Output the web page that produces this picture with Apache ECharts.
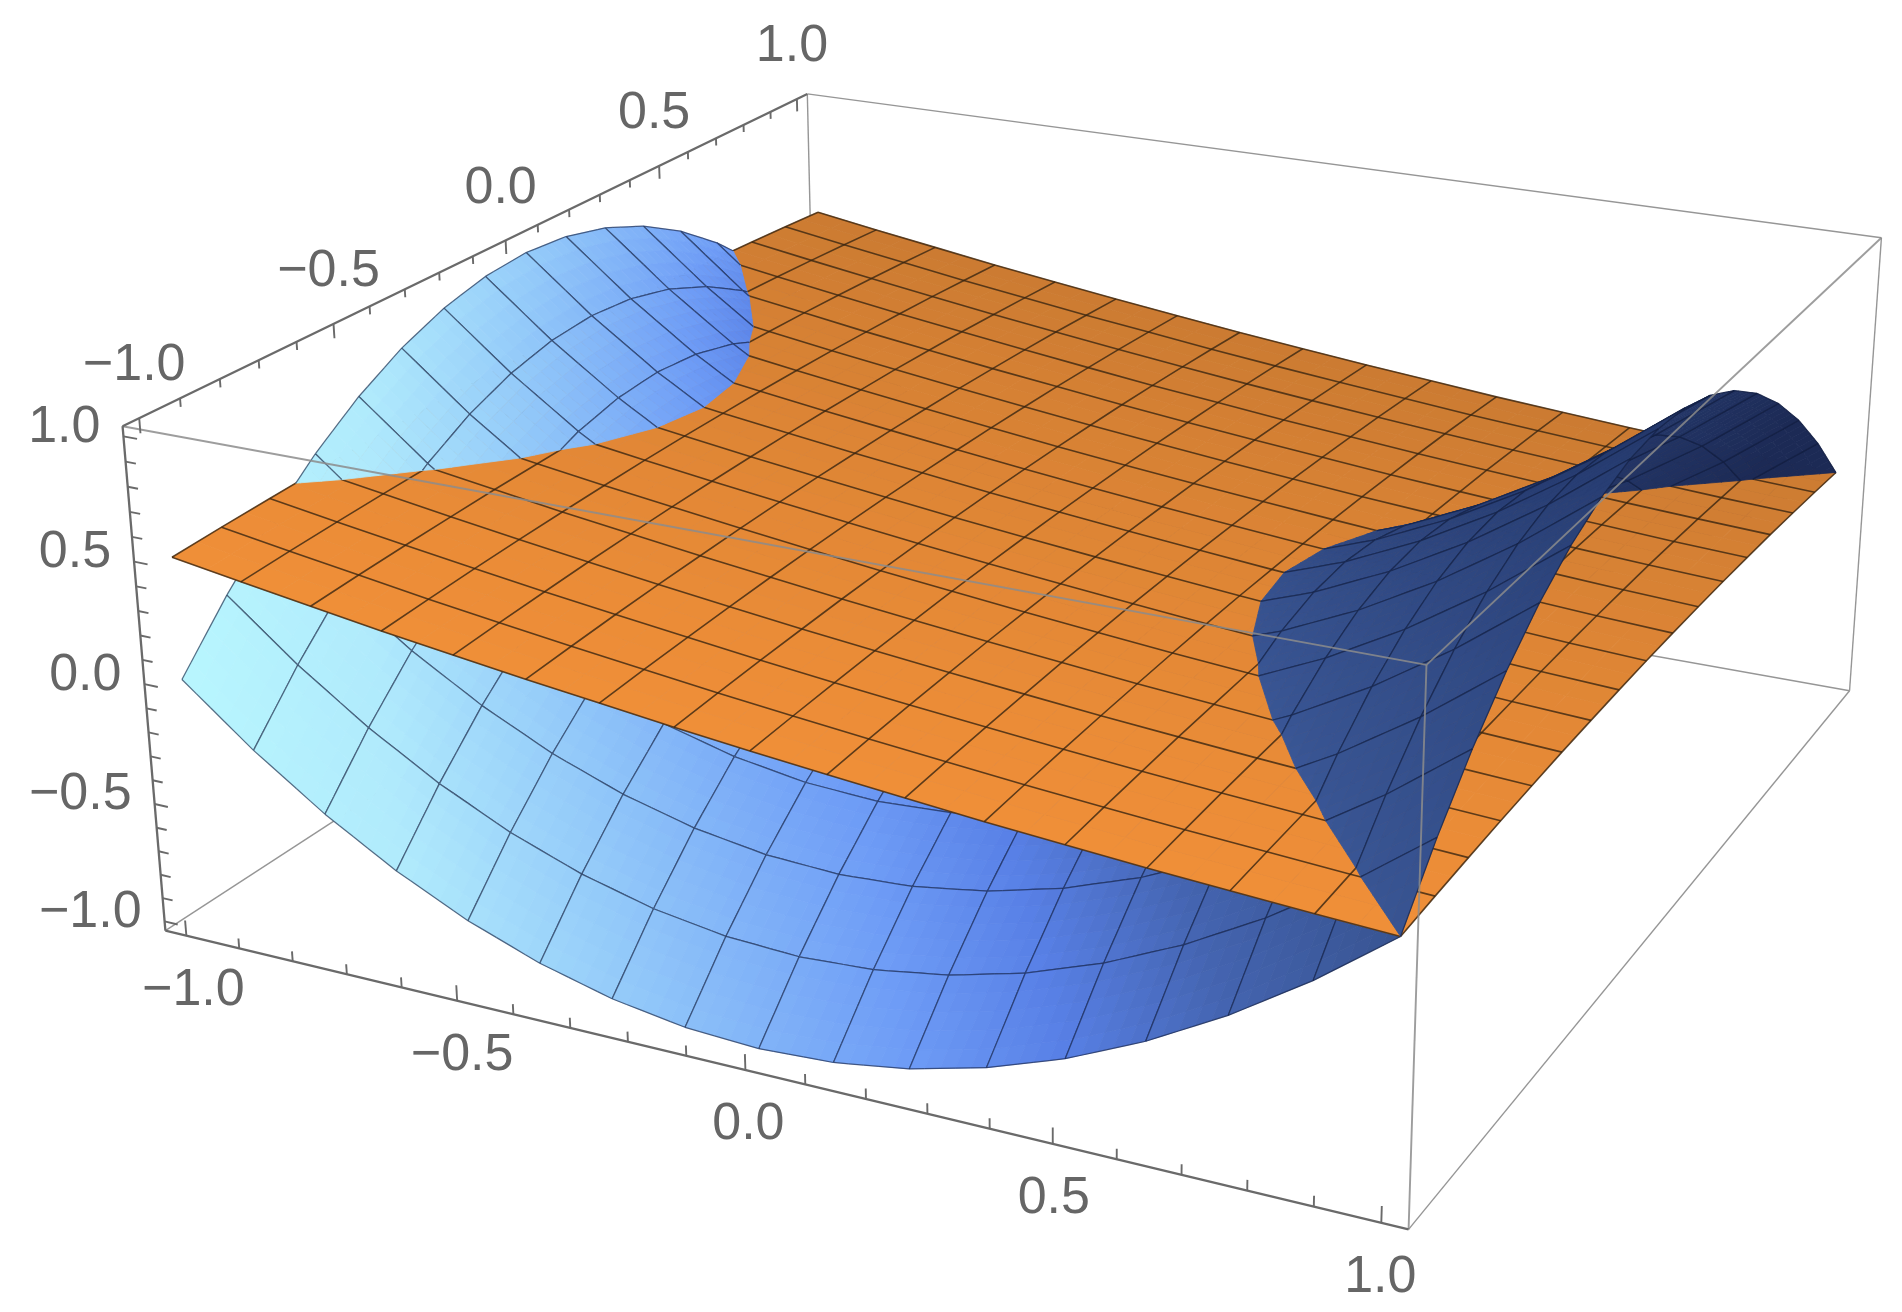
<!DOCTYPE html>
<html><head><meta charset="utf-8">
<style>html,body{margin:0;padding:0;background:#fff}#c{width:1902px;height:1312px}</style>
<script src="https://cdn.jsdelivr.net/npm/echarts@6/dist/echarts.min.js"></script>
</head><body><div id="c"></div>
<script>
// ---------- data ----------
const gridX = [-1,-0.875,-0.75,-0.625,-0.5,-0.375,-0.25,-0.125,0,0.125,0.25,0.375,0.5,0.625,0.75,0.875,1];
const gridY = [-1,-0.875,-0.75,-0.625,-0.5,-0.375,-0.25,-0.125,0,0.125,0.25,0.375,0.5,0.625,0.75,0.875,1];

// blue surface heights, row per y, column per x
const blueA = [0,-.234,-.437,-.609,-.75,-.859,-.937,-.984,-1,-.984,-.937,-.859,-.75,-.609,-.437,-.234,0];
const blueB = [.234,0,-.203,-.375,-.516,-.625,-.703,-.75,-.766,-.75,-.703,-.625,-.516,-.375,-.203,0,.234];
const blueC = [.437,.203,0,-.172,-.313,-.422,-.5,-.547,-.563,-.547,-.5,-.422,-.313,-.172,0,.203,.437];
const blueD = [.609,.375,.172,0,-.141,-.25,-.328,-.375,-.391,-.375,-.328,-.25,-.141,0,.172,.375,.609];
const blueE = [.75,.516,.313,.141,0,-.109,-.187,-.234,-.25,-.234,-.187,-.109,0,.141,.313,.516,.75];
const blueF = [.859,.625,.422,.25,.109,0,-.078,-.125,-.141,-.125,-.078,0,.109,.25,.422,.625,.859];
const blueG = [.937,.703,.5,.328,.187,.078,0,-.047,-.063,-.047,0,.078,.187,.328,.5,.703,.937];
const blueH = [.984,.75,.547,.375,.234,.125,.047,0,-.016,0,.047,.125,.234,.375,.547,.75,.984];
const blueI = [1,.766,.563,.391,.25,.141,.063,.016,0,.016,.063,.141,.25,.391,.563,.766,1];
const blueZ = [blueA,blueB,blueC,blueD,blueE,blueF,blueG,blueH,blueI,blueH,blueG,blueF,blueE,blueD,blueC,blueB,blueA];

// orange surface heights, row per y, column per x
const orangeA = [.5,.455,.412,.369,.33,.292,.257,.222,.19,.16,.132,.104,.08,.057,.037,.017,0];
const orangeB = [.514,.469,.426,.383,.344,.306,.271,.236,.204,.174,.146,.118,.094,.071,.051,.031,.014];
const orangeC = [.526,.481,.438,.396,.356,.319,.283,.248,.216,.186,.158,.131,.106,.084,.063,.043,.026];
const orangeD = [.537,.492,.448,.406,.367,.329,.293,.258,.227,.196,.168,.141,.117,.094,.073,.054,.037];
const orangeE = [.545,.5,.457,.414,.375,.337,.302,.267,.235,.205,.177,.149,.125,.102,.082,.062,.045];
const orangeF = [.552,.507,.463,.421,.382,.344,.308,.273,.242,.211,.183,.156,.132,.109,.088,.069,.052];
const orangeG = [.556,.511,.468,.426,.386,.349,.313,.278,.246,.216,.188,.161,.136,.114,.093,.073,.056];
const orangeH = [.559,.514,.471,.429,.389,.352,.316,.281,.249,.219,.191,.164,.139,.117,.096,.076,.059];
const orangeI = [.56,.515,.472,.429,.39,.352,.317,.282,.25,.22,.192,.164,.14,.117,.097,.077,.06];
const orangeZ = [orangeA,orangeB,orangeC,orangeD,orangeE,orangeF,orangeG,orangeH,orangeI,orangeH,orangeG,orangeF,orangeE,orangeD,orangeC,orangeB,orangeA];

const tickValues = [-1,-.9,-.8,-.7,-.6,-.5,-.4,-.3,-.2,-.1,0,.1,.2,.3,.4,.5,.6,.7,.8,.9,1];
const labelValues = [-1,-.5,0,.5,1];
const labelTexts = ['\u22121.0','\u22120.5','0.0','0.5','1.0'];

// ---------- camera: box corners (data space) and where they appear in the picture ----------
const B0 = 1.04;
const cameraPairs = [
 [[-1,-1,-1],[165.3,930.7]],[[1,-1,-1],[1409,1229.3]],[[1,1,-1],[1849.3,690.7]],
 [[-1,-1,1],[122.7,426]],[[1,-1,1],[1426,665]],[[1,1,1],[1881.7,237.7]],[[-1,1,1],[807.3,94]]
];
function solveCamera(pairs){
  const n=11, M=[...Array(n)].map(()=>Array(n+1).fill(0));
  const add=(r,b)=>{for(let i=0;i<n;i++){for(let j=0;j<n;j++)M[i][j]+=r[i]*r[j];M[i][n]+=r[i]*b;}};
  pairs.forEach(([p,q])=>{
    const [x,y,z]=[p[0]*B0,p[1]*B0,p[2]*B0],[u,v]=q;
    add([x,y,z,1,0,0,0,0,-u*x,-u*y,-u*z],u);
    add([0,0,0,0,x,y,z,1,-v*x,-v*y,-v*z],v);
  });
  for(let i=0;i<n;i++){
    let m=i;for(let k=i+1;k<n;k++)if(Math.abs(M[k][i])>Math.abs(M[m][i]))m=k;
    [M[i],M[m]]=[M[m],M[i]];
    for(let k=0;k<n;k++){if(k===i)continue;const f=M[k][i]/M[i][i];for(let j=i;j<=n;j++)M[k][j]-=f*M[i][j];}
  }
  return M.map((r,i)=>r[n]/r[i]);
}
const P = solveCamera(cameraPairs);
function toPicture(x,y,z){
  const w=P[8]*x+P[9]*y+P[10]*z+1;
  return [(P[0]*x+P[1]*y+P[2]*z+P[3])/w,(P[4]*x+P[5]*y+P[6]*z+P[7])/w];
}
const depthRaw=(x,y,z)=>P[8]*x+P[9]*y+P[10]*z+1;
const farSign = depthRaw(-1,1,0)>depthRaw(1,-1,0)?1:-1;

// ---------- surface helpers ----------
const N = gridX.length-1;
function bil(T,i,j,u,v){
  return (T[j][i]*(1-u)+T[j][i+1]*u)*(1-v)+(T[j+1][i]*(1-u)+T[j+1][i+1]*u)*v;
}
function pointAt(i,j,u,v){
  const x=gridX[i]+(gridX[i+1]-gridX[i])*u, y=gridY[j]+(gridY[j+1]-gridY[j])*v;
  const zb=bil(blueZ,i,j,u,v), zo=bil(orangeZ,i,j,u,v);
  return {x,y,z:zb,o:zo,d:zb-zo};
}
const lerpPt=(a,b,t)=>({x:a.x+(b.x-a.x)*t,y:a.y+(b.y-a.y)*t,z:a.z+(b.z-a.z)*t,o:a.o+(b.o-a.o)*t,d:a.d+(b.d-a.d)*t});
function clipPoly(pts,s){
  const out=[];
  for(let k=0;k<pts.length;k++){
    const a=pts[k],b=pts[(k+1)%pts.length],da=a.d*s,db=b.d*s;
    if(da>=0)out.push(a);
    if((da>=0)!==(db>=0))out.push(lerpPt(a,b,da/(da-db)));
  }
  return out;
}
function clipSeg(a,b,s){
  const da=a.d*s,db=b.d*s;
  if(da<0&&db<0)return null;
  if(da>=0&&db>=0)return [a,b];
  const c=lerpPt(a,b,da/(da-db));
  return da>=0?[a,c]:[c,b];
}
function hex(c){return 'rgb('+c.map(Math.round).join(',')+')';}
const blueRamp=[[-1,[184,246,254]],[-.6,[176,234,252]],[-.2,[146,200,249]],[.25,[110,156,246]],[.5,[88,128,230]],[.75,[68,100,176]],[1,[56,84,146]],[1.5,[42,65,120]],[2.3,[28,42,85]]];
function blueColor(x,y){
  const w=.8*Math.max(0,x+1)*Math.max(0,-x);
  const s=x+(.75+w)*(y+1);
  for(let k=1;k<blueRamp.length;k++){
    if(s<=blueRamp[k][0]){
      const [s0,c0]=blueRamp[k-1],[s1,c1]=blueRamp[k],t=Math.max(0,(s-s0)/(s1-s0));
      return hex(c0.map((v,m)=>v+(c1[m]-v)*t));
    }
  }
  return hex(blueRamp[blueRamp.length-1][1]);
}
function orangeColor(y){
  const t=(y+1)/2, c0=[240,143,56], c1=[203,123,50];
  return hex(c0.map((v,m)=>v+(c1[m]-v)*t));
}
function screen(api,x,y,z){return api.coord(toPicture(x,y,z));}

const SUB=5;
function blueItem(side){
  return function(params,api){
    const i=api.value(0),j=api.value(1),children=[];
    for(let a=0;a<SUB;a++)for(let b=0;b<SUB;b++){
      const q=[pointAt(i,j,a/SUB,b/SUB),pointAt(i,j,(a+1)/SUB,b/SUB),pointAt(i,j,(a+1)/SUB,(b+1)/SUB),pointAt(i,j,a/SUB,(b+1)/SUB)];
      const pts=clipPoly(q,side);
      if(pts.length<3)continue;
      const c=blueColor(q[0].x+(q[1].x-q[0].x)/2,q[0].y+(q[3].y-q[0].y)/2);
      children.push({type:'polygon',silent:true,shape:{points:pts.map(p=>screen(api,p.x,p.y,p.z))},style:{fill:c,stroke:c,lineWidth:.8}});
    }
    const lineStyle={stroke:'rgba(16,28,60,0.62)',lineWidth:1.25,fill:null};
    const edge=(f)=>{for(let a=0;a<SUB;a++){
      const seg=clipSeg(f(a/SUB),f((a+1)/SUB),side);
      if(seg){const s0=screen(api,seg[0].x,seg[0].y,seg[0].z),s1=screen(api,seg[1].x,seg[1].y,seg[1].z);
        children.push({type:'line',silent:true,shape:{x1:s0[0],y1:s0[1],x2:s1[0],y2:s1[1]},style:lineStyle});}
    }};
    edge(t=>pointAt(i,j,t,0));edge(t=>pointAt(i,j,t,1));edge(t=>pointAt(i,j,0,t));edge(t=>pointAt(i,j,1,t));
    return {type:'group',children};
  };
}
function orangeItem(params,api){
  const i=api.value(0),j=api.value(1),children=[],S=2;
  for(let a=0;a<S;a++)for(let b=0;b<S;b++){
    const u0=a/S,u1=(a+1)/S,v0=b/S,v1=(b+1)/S;
    const corner=(u,v)=>{const p=pointAt(i,j,u,v);return screen(api,p.x,p.y,p.o);};
    const c=orangeColor(gridY[j]+(gridY[j+1]-gridY[j])*(v0+v1)/2);
    children.push({type:'polygon',silent:true,shape:{points:[corner(u0,v0),corner(u1,v0),corner(u1,v1),corner(u0,v1)]},style:{fill:c,stroke:c,lineWidth:.8}});
  }
  return {type:'group',children};
}
function orangeMesh(params,api){
  const dir=api.value(0),k=api.value(1),pts=[];
  for(let m=0;m<=N;m++){
    const ix=dir?k:m,iy=dir?m:k;
    pts.push(screen(api,gridX[ix],gridY[iy],orangeZ[iy][ix]));
  }
  return {type:'polyline',silent:true,shape:{points:pts},style:{stroke:'rgba(58,38,16,0.8)',lineWidth:1.6,fill:null}};
}

const cells=[];for(let j=0;j<N;j++)for(let i=0;i<N;i++)cells.push([i,j]);
const cellDepth=c=>{const x=(gridX[c[0]]+gridX[c[0]+1])/2,y=(gridY[c[1]]+gridY[c[1]+1])/2,z=bil(blueZ,c[0],c[1],.5,.5);return farSign*depthRaw(x,y,z);};
const sortedCells=cells.slice().sort((a,b)=>cellDepth(b)-cellDepth(a));
const meshData=[];for(let k=0;k<=N;k++){meshData.push([0,k]);meshData.push([1,k]);}

// ---------- box ----------
const boxBack=[[[-1,-1,-1],[-1,1,-1]],[[-1,1,-1],[1,1,-1]],[[-1,1,-1],[-1,1,1]],[[-1,1,1],[1,1,1]],[[1,1,1],[1,1,-1]],[[1,-1,-1],[1,1,-1]]];
const boxFront=[[[-1,-1,1],[1,-1,1]],[[1,-1,1],[1,1,1]],[[1,-1,1],[1,-1,-1]]];
const boxAxes=[[[-1,-1,-1],[1,-1,-1]],[[-1,-1,-1],[-1,-1,1]],[[-1,-1,1],[-1,1,1]]];
function edgeItem(style){
  return function(params,api){
    const d=[api.value(0),api.value(1),api.value(2)],e=[api.value(3),api.value(4),api.value(5)];
    const a=screen(api,d[0]*B0,d[1]*B0,d[2]*B0),b=screen(api,e[0]*B0,e[1]*B0,e[2]*B0);
    return {type:'line',silent:true,shape:{x1:a[0],y1:a[1],x2:b[0],y2:b[1]},style};
  };
}
const flat=arr=>arr.map(e=>e[0].concat(e[1]));
const thin={stroke:'#969696',lineWidth:1.4};
const thinFront={stroke:'rgba(140,140,140,0.85)',lineWidth:1.9};
const thick={stroke:'#6a6a6a',lineWidth:2.3};

function tickEnds(axis,v,major){
  if(axis===0){const l=major?.065:.042;return [[v,-B0,-B0],[v,-B0,-B0+l]];}
  if(axis===1){const l=major?.06:.034;return [[-B0,v,B0],[-B0,v,B0-l]];}
  const l=major?.025:.019;return [[-B0,-B0,v],[-B0+l,-B0,v]];
}
function tickItem(params,api){
  const axis=api.value(0),v=api.value(1),major=labelValues.indexOf(v)>=0;
  const [p,q]=tickEnds(axis,v,major);
  const a=screen(api,p[0],p[1],p[2]),b=screen(api,q[0],q[1],q[2]);
  return {type:'line',silent:true,shape:{x1:a[0],y1:a[1],x2:b[0],y2:b[1]},style:{stroke:'#6a6a6a',lineWidth:1.9}};
}
const tickData=[];[0,1,2].forEach(ax=>tickValues.forEach(v=>tickData.push([ax,v])));
function labelOffset(axis,v){
  if(axis===0)return [3-4*v,55];
  if(axis===1)return [-5,-52];
  return [-23,-9];
}
const labelAlign=['center','center','right'];
function labelItem(params,api){
  const axis=api.value(0),k=api.value(1),v=labelValues[k];
  const [p]=tickEnds(axis,v,true);
  const a=screen(api,p[0],p[1],p[2]),o=labelOffset(axis,v);
  return {type:'text',silent:true,x:a[0]+o[0],y:a[1]+o[1],style:{text:labelTexts[k],fill:'#666666',font:'52px "Liberation Sans", Arial, sans-serif',textAlign:labelAlign[axis],textVerticalAlign:'middle'}};
}
const labelData=[];[0,1,2].forEach(ax=>labelValues.forEach((v,k)=>labelData.push([ax,k])));

function custom(renderItem,data,z){
  return {type:'custom',renderItem,data,z,silent:true,animation:false,clip:false,encode:{x:0,y:1},tooltip:{show:false}};
}
const chart=echarts.init(document.getElementById('c'),null,{renderer:'canvas'});
chart.setOption({
  animation:false,backgroundColor:'#ffffff',
  grid:{left:0,right:0,top:0,bottom:0},
  xAxis:{type:'value',min:0,max:1902,show:false},
  yAxis:{type:'value',min:0,max:1312,inverse:true,show:false},
  series:[
    custom(edgeItem(thin),flat(boxBack),1),
    custom(blueItem(-1),sortedCells,2),
    custom(orangeItem,cells,3),
    custom(orangeMesh,meshData,4),
    custom(blueItem(1),sortedCells,5),
    custom(edgeItem(thinFront),flat(boxFront),6),
    custom(edgeItem(thick),flat(boxAxes),7),
    custom(tickItem,tickData,8),
    custom(labelItem,labelData,9)
  ]
});
</script></body></html>
